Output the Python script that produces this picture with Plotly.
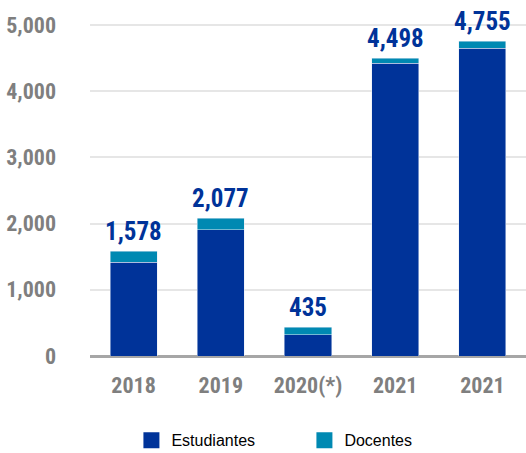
import plotly.graph_objects as go

categories = ["2018", "2019", "2020(*)", "2021", "2021"]
estudiantes = [1414, 1910, 322, 4422, 4649]
docentes = [164, 167, 113, 76, 106]
totals = [1578, 2077, 435, 4498, 4755]
y_ticks = [0, 1000, 2000, 3000, 4000, 5000]

FONT = "Liberation Sans Narrow, Roboto Condensed, Arial Narrow, Liberation Sans, Arial, sans-serif"
DARK = "#003399"
TEAL = "#0089B2"
GRAY = "#7f7f7f"

xpos = list(range(len(categories)))

fig = go.Figure()
fig.add_trace(go.Bar(x=xpos, y=estudiantes, name="Estudiantes", marker_color=DARK,
                     width=0.54, hoverinfo="skip", showlegend=False))
fig.add_trace(go.Bar(x=xpos, y=docentes, name="Docentes", marker_color=TEAL,
                     width=0.54, hoverinfo="skip", showlegend=False))
# legend entries with larger square swatches
for name, col in [("Estudiantes", DARK), ("Docentes", TEAL)]:
    fig.add_trace(go.Scatter(x=[None], y=[None], mode="markers", name=name,
                             marker=dict(symbol="square", size=19, color=col),
                             hoverinfo="skip", showlegend=True))

for xi, t in zip(xpos, totals):
    fig.add_annotation(x=xi, y=t, text=f"<b>{t:,}</b>", showarrow=False,
                       yanchor="bottom", yshift=3,
                       font=dict(family=FONT, size=25, color=DARK))

fig.update_layout(
    barmode="stack",
    width=526, height=453,
    margin=dict(l=90, r=0, t=5, b=97, autoexpand=False),
    plot_bgcolor="white", paper_bgcolor="white",
    bargap=0.46,
    showlegend=True,
    legend=dict(orientation="h", x=0.095, xanchor="left", y=-0.24, yanchor="middle",
                font=dict(family="Liberation Sans, Arial, sans-serif", size=16, color="#000000"),
                entrywidth=128, entrywidthmode="pixels", traceorder="normal",
                itemsizing="trace"),
    xaxis=dict(tickmode="array", tickvals=xpos, ticktext=[f"<b>{c}</b>" for c in categories],
               range=[-0.5, 4.5], showgrid=False, showline=False, ticks="",
               ticklabelstandoff=14,
               tickfont=dict(family=FONT, size=22, color=GRAY), fixedrange=True),
    yaxis=dict(range=[0, 5300], tickmode="array", tickvals=y_ticks,
               ticktext=[f"<b>{v:,}</b>" for v in y_ticks],
               showgrid=True, gridcolor="#e6e6e6", gridwidth=1.5,
               zeroline=True, zerolinecolor="#a6a6a6", zerolinewidth=2.5,
               showline=False, ticks="", ticklabelstandoff=33,
               tickfont=dict(family=FONT, size=22, color=GRAY), fixedrange=True),
)

fig.write_html("out.html", config={"displayModeBar": False},
               post_script="document.body.style.margin='0';document.body.style.overflow='hidden';")
